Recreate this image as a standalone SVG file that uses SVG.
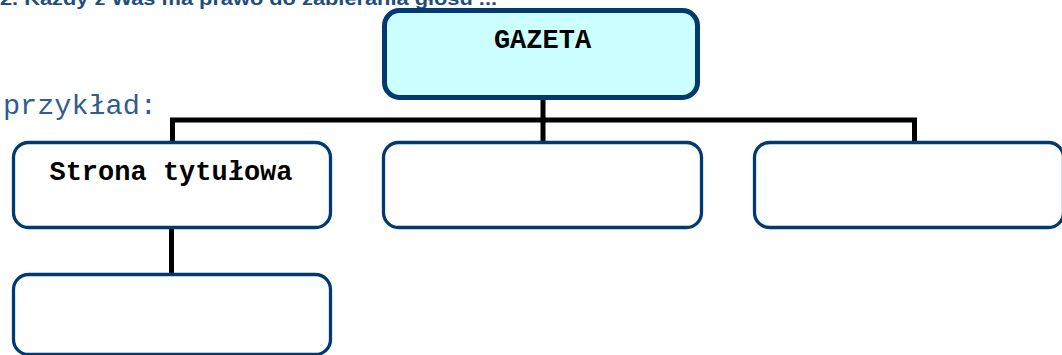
<svg xmlns="http://www.w3.org/2000/svg" width="1062" height="355" viewBox="0 0 1062 355">
<style>
.box{fill:#ffffff;stroke:#003a70;stroke-width:3.3}
.top{fill:#ccffff;stroke:#003a70;stroke-width:5}
.lbl{font-family:"Liberation Mono","Courier New",monospace;font-weight:bold;font-size:27px;fill:#000;text-anchor:middle}
.conn{stroke:#000;stroke-width:5;fill:none}
</style>
<rect width="1062" height="355" fill="#ffffff"/>
<text x="0" y="5" font-family="Liberation Sans, Arial, sans-serif" font-weight="bold" font-size="19" fill="#1f4e79" textLength="497" lengthAdjust="spacingAndGlyphs">2. Każdy z Was ma prawo do zabierania głosu ...</text>
<text x="3" y="114" font-family="Liberation Mono, 'Courier New', monospace" font-size="28.5" fill="#2e5d8e">przykład:</text>
<g id="connectors">
<polyline class="conn" points="172.5,143 172.5,120 914.5,120 914.5,143"/>
<line class="conn" x1="543" y1="99" x2="543" y2="143"/>
<line class="conn" x1="171.5" y1="229" x2="171.5" y2="275"/>
</g>
<g id="gazeta">
<rect class="top" x="384.5" y="10.5" width="313" height="87" rx="15"/>
<text class="lbl" x="542.5" y="48">GAZETA</text>
</g>
<g id="strona">
<rect class="box" x="13.5" y="142.5" width="317" height="85" rx="15"/>
<text class="lbl" x="171" y="180">Strona tytułowa</text>
</g>
<g id="box2">
<rect class="box" x="383.5" y="142.5" width="318" height="85" rx="15"/>
</g>
<g id="box3">
<rect class="box" x="754.5" y="142.5" width="309" height="85" rx="15"/>
</g>
<g id="box4">
<rect class="box" x="13.5" y="274.5" width="317" height="80" rx="15"/>
</g>
</svg>
